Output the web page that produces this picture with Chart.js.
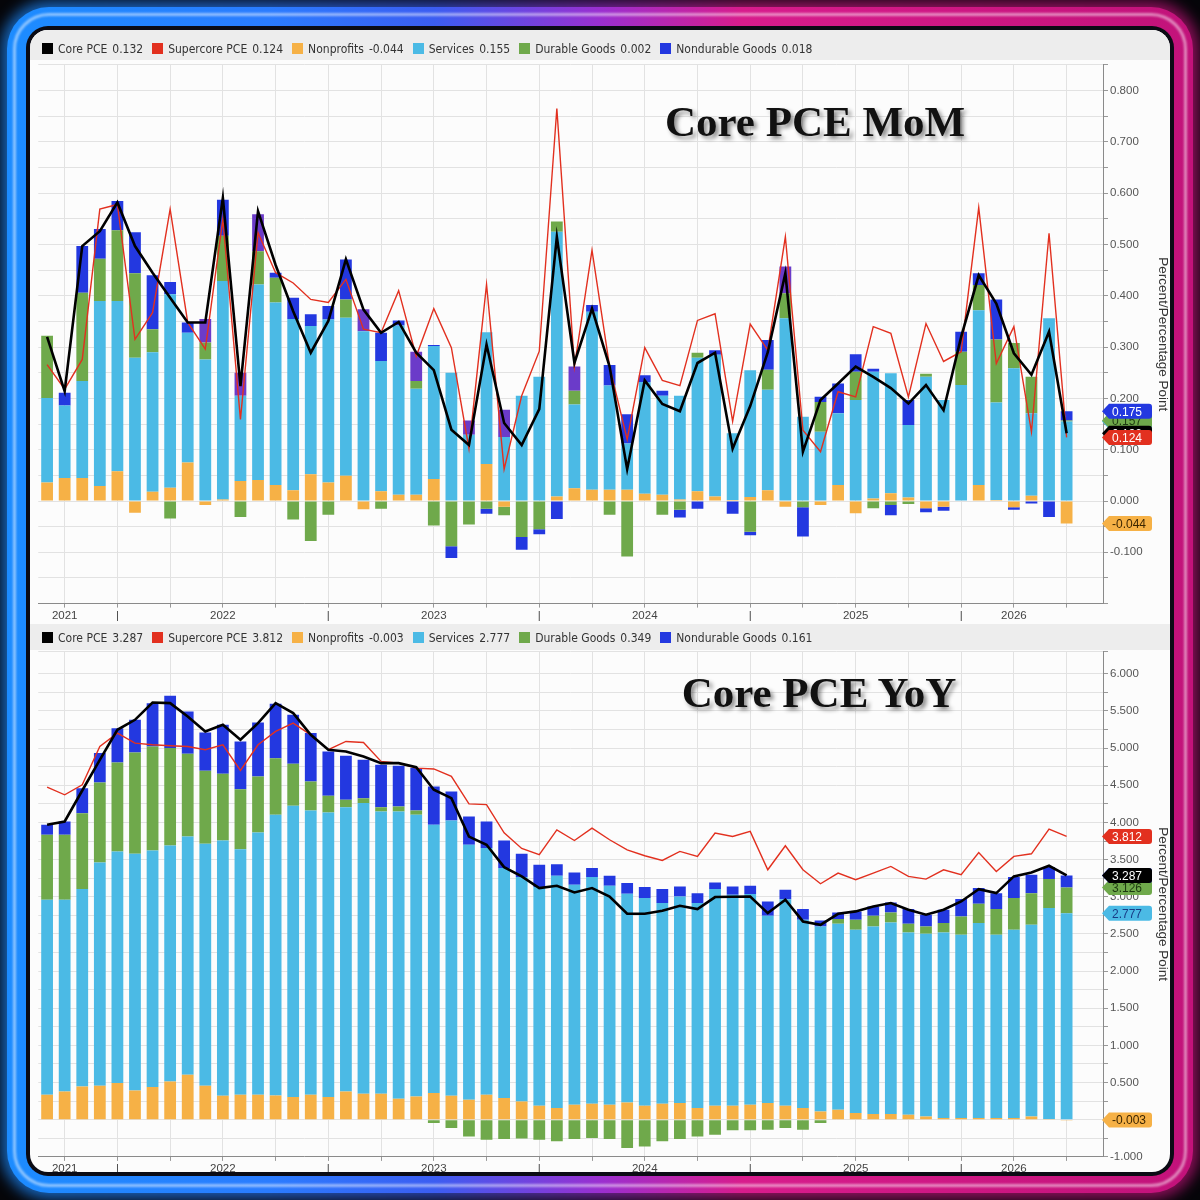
<!DOCTYPE html>
<html>
<head>
<meta charset="utf-8">
<title>Core PCE MoM / YoY</title>
<script src="https://cdn.jsdelivr.net/npm/chart.js@4.4.1/dist/chart.umd.min.js"></script>
<style>
    html, body { margin: 0; padding: 0; background: #050509; }
    #frame { position: relative; width: 1200px; height: 1200px; overflow: hidden; background: #050509; }
    .ring { position: absolute; }
    .glow { left: 1px; top: 1px; right: 1px; bottom: 1px; border-radius: 48px; filter: blur(7px); opacity: 0.7; }
    .tube { left: 7px; top: 7px; right: 7px; bottom: 7px; border-radius: 42px; }
    .grad { background: linear-gradient(90deg, #1c8cff 0%, #2a7cff 22%, #3b5df2 36%, #9a2fd0 50%, #d81c8c 62%, #c2127a 100%); }
    .hi { left: 13px; top: 13px; right: 13px; bottom: 13px; border-radius: 36px; border: 3px solid rgba(255, 255, 255, 0.5); filter: blur(1.2px); }
    .gap { left: 26px; top: 26px; right: 26px; bottom: 24px; border-radius: 22px; background: #0b0b14; }
    #panel { position: absolute; left: 30px; top: 30px; width: 1140px; height: 1142px; border-radius: 18px; background: #fcfcfc; overflow: hidden; }
    .band { position: absolute; left: 0; width: 1140px; background: #ededed; }
    canvas { position: absolute; left: 0; }
    .legend { position: absolute; left: 12px; height: 16px; line-height: 16px; white-space: nowrap;
              font-family: 'Liberation Sans Narrow', 'DejaVu Sans Condensed', sans-serif; font-size: 12px; color: #333; }
    .legend .item { display: inline-block; margin-right: 9px; }
    .legend i { display: inline-block; width: 11px; height: 11px; vertical-align: -1px; margin-right: 5px; }
    .legend b { font-weight: normal; margin-left: 5px; }
    .title { position: absolute; text-align: center; font-family: 'Liberation Serif', 'DejaVu Serif', serif; font-weight: bold;
             font-size: 43px; color: #111; line-height: 44px; height: 44px; white-space: nowrap;
             text-shadow: 3px 3px 4px rgba(0, 0, 0, 0.45), 0 0 3px #fff; }
</style>
</head>
<body>
<div id="frame">
    <div class="ring glow grad"></div>
    <div class="ring tube grad"></div>
    <div class="ring hi"></div>
    <div class="ring gap"></div>
    <div id="panel">
        <div class="band" style="top:0;height:30px"></div>
        <div class="band" style="top:594px;height:26px"></div>
        <canvas id="momChart" width="1140" height="592" style="top:0"></canvas>
        <canvas id="yoyChart" width="1140" height="550" style="top:595px"></canvas>
        <div class="legend" id="momLegend" style="top:11px"></div>
        <div class="legend" id="yoyLegend" style="top:600px"></div>
        <div class="title" style="left:625px;top:70px;width:320px">Core PCE MoM</div>
        <div class="title" style="left:639px;top:641px;width:300px">Core PCE YoY</div>
    </div>
</div>
<script>
// month-over-month contributions (percentage points)
const momNonprofits = [0.036, 0.045, 0.045, 0.029, 0.058, -0.023, 0.018, 0.026, 0.075, -0.008,
    0.003, 0.039, 0.041, 0.031, 0.021, 0.052, 0.036, 0.049, -0.016, 0.019,
    0.012, 0.012, 0.043, 0, 0, 0.072, -0.011, 0, 0, 0.009,
    0.025, 0.022, 0.022, 0.022, 0.014, 0.012, 0.003, 0.019, 0.009, 0.002,
    0.008, 0.021, -0.011, 0, -0.008, 0.031, -0.024, 0.005, 0.015, 0.007,
    -0.014, -0.011, 0, 0.031, 0.002, -0.012, 0.01, 0, -0.044];
const momServices = [0.165, 0.141, 0.189, 0.361, 0.332, 0.279, 0.272, 0.377, 0.253, 0.276,
    0.426, 0.166, 0.381, 0.356, 0.334, 0.289, 0.318, 0.308, 0.331, 0.254,
    0.330, 0.207, 0.259, 0.25, 0.129, 0.257, 0.125, 0.205, 0.242, 0.516,
    0.163, 0.347, 0.203, 0.09, 0.218, 0.193, 0.202, 0.26, 0.276, 0.13,
    0.247, 0.196, 0.356, 0.164, 0.135, 0.14, 0.197, 0.247, 0.234, 0.141,
    0.242, 0.197, 0.226, 0.341, 0.19, 0.259, 0.161, 0.356, 0.155];
const momDurable = [0.121, 0, 0.172, 0.082, 0.138, 0.165, 0.045, -0.034, 0, 0.033,
    0.088, -0.031, 0.065, 0.048, -0.036, -0.078, -0.027, 0.036, 0, -0.015,
    0, 0.015, -0.048, -0.088, -0.046, -0.015, -0.017, -0.07, -0.055, 0.02,
    0.027, 0, -0.027, -0.108, 0, -0.027, -0.017, 0.01, 0, 0,
    -0.06, 0.039, 0.049, -0.012, 0.058, 0, 0.055, -0.014, -0.008, -0.006,
    0.006, 0, 0.065, 0.049, 0.123, 0.049, 0.071, 0, 0.002];
const momNondurable = [0, 0.025, 0.091, 0.058, 0.057, 0.08, 0.105, 0.024, 0.02, 0.046,
    0.07, 0.045, 0.072, 0.01, 0.041, 0.023, 0.026, 0.078, 0.043, 0.055,
    0.01, 0.057, 0.002, -0.023, 0.028, -0.01, 0.053, -0.025, -0.01, -0.035,
    0.047, 0.013, 0.04, 0.057, 0.013, 0.01, -0.015, -0.015, 0.009, -0.025,
    -0.007, 0.058, 0.052, -0.057, 0.01, 0.058, 0.034, 0.006, -0.02, 0.049,
    -0.008, -0.008, 0.039, 0.023, 0.078, -0.005, -0.005, -0.031, 0.018];
const momCore = [0.32, 0.214, 0.497, 0.526, 0.582, 0.497, 0.445, 0.396, 0.348, 0.348,
    0.591, 0.224, 0.565, 0.46, 0.37, 0.289, 0.351, 0.471, 0.373, 0.328,
    0.349, 0.289, 0.255, 0.139, 0.109, 0.305, 0.152, 0.109, 0.179, 0.515,
    0.269, 0.375, 0.262, 0.062, 0.235, 0.189, 0.175, 0.269, 0.289, 0.102,
    0.185, 0.29, 0.444, 0.096, 0.197, 0.229, 0.262, 0.242, 0.22, 0.19,
    0.226, 0.177, 0.32, 0.44, 0.385, 0.288, 0.246, 0.33, 0.132];
const momSupercore = [0.266, 0.218, 0.276, 0.569, 0.578, 0.315, 0.367, 0.569, 0.348, 0.296,
    0.549, 0.159, 0.523, 0.445, 0.425, 0.393, 0.387, 0.432, 0.335, 0.328,
    0.41, 0.282, 0.375, 0.299, 0.102, 0.422, 0.062, 0.205, 0.292, 0.765,
    0.262, 0.489, 0.262, 0.12, 0.299, 0.235, 0.225, 0.352, 0.365, 0.155,
    0.345, 0.294, 0.515, 0.138, 0.096, 0.213, 0.203, 0.34, 0.327, 0.203,
    0.346, 0.272, 0.291, 0.572, 0.268, 0.34, 0.135, 0.522, 0.124];
// bars whose nondurable block shows purple in the source
const momPurpleBars = [9, 11, 12, 18, 21, 24, 26, 30, 42];

// year-over-year contributions (percentage points)
const yoyNonprofits = [0.336, 0.381, 0.448, 0.457, 0.493, 0.395, 0.439, 0.516, 0.605, 0.457,
    0.323, 0.336, 0.336, 0.327, 0.305, 0.336, 0.305, 0.381, 0.35, 0.35,
    0.283, 0.314, 0.359, 0.323, 0.269, 0.336, 0.291, 0.247, 0.188, 0.157,
    0.202, 0.215, 0.202, 0.233, 0.188, 0.215, 0.224, 0.157, 0.188, 0.188,
    0.202, 0.224, 0.188, 0.157, 0.112, 0.135, 0.09, 0.076, 0.076, 0.067,
    0.045, 0.022, 0.022, 0.022, 0.022, 0.022, 0.045, 0.009, -0.003];
const yoyServices = [2.623, 2.578, 2.655, 3.005, 3.117, 3.183, 3.184, 3.175, 3.207, 3.256,
    3.435, 3.305, 3.529, 3.776, 3.919, 3.825, 3.83, 3.825, 3.91, 3.798,
    3.865, 3.789, 3.61, 3.704, 3.431, 3.319, 3.095, 3.018, 2.942, 3.126,
    2.959, 3.05, 2.946, 2.807, 2.794, 2.7, 2.78, 2.758, 2.915, 2.839,
    2.834, 2.52, 2.78, 2.534, 2.489, 2.502, 2.466, 2.525, 2.579, 2.453,
    2.457, 2.498, 2.467, 2.624, 2.467, 2.534, 2.578, 2.839, 2.777];
const yoyDurable = [0.874, 0.874, 1.022, 1.076, 1.197, 1.364, 1.399, 1.309, 1.112, 0.982,
    0.897, 0.807, 0.754, 0.762, 0.565, 0.391, 0.224, 0.099, 0.067, 0.058,
    0.067, 0.058, -0.045, -0.112, -0.224, -0.269, -0.26, -0.251, -0.269, -0.291,
    -0.26, -0.247, -0.26, -0.381, -0.359, -0.291, -0.26, -0.224, -0.202, -0.143,
    -0.143, -0.135, -0.112, -0.135, -0.045, 0.063, 0.135, 0.143, 0.134, 0.117,
    0.099, 0.126, 0.246, 0.26, 0.345, 0.426, 0.426, 0.39, 0.349];
const yoyNondurable = [0.135, 0.179, 0.336, 0.395, 0.462, 0.439, 0.583, 0.704, 0.569, 0.516,
    0.659, 0.642, 0.726, 0.731, 0.659, 0.65, 0.596, 0.592, 0.516, 0.57,
    0.547, 0.57, 0.516, 0.39, 0.381, 0.358, 0.372, 0.313, 0.3, 0.156,
    0.166, 0.121, 0.135, 0.144, 0.148, 0.188, 0.135, 0.134, 0.09, 0.112,
    0.112, 0.193, 0.126, 0.143, 0.081, 0.089, 0.112, 0.126, 0.135, 0.197,
    0.157, 0.179, 0.234, 0.211, 0.215, 0.283, 0.247, 0.161, 0.161];
const yoyCore = [3.969, 4.013, 4.43, 4.843, 5.247, 5.381, 5.614, 5.605, 5.426, 5.224,
    5.314, 5.112, 5.336, 5.605, 5.471, 5.179, 4.978, 4.955, 4.888, 4.798,
    4.798, 4.744, 4.44, 4.327, 3.81, 3.7, 3.399, 3.274, 3.117, 3.148,
    3.058, 3.117, 3.004, 2.771, 2.771, 2.812, 2.879, 2.834, 2.996, 3.0,
    3.004, 2.78, 2.96, 2.668, 2.623, 2.771, 2.803, 2.87, 2.915, 2.825,
    2.758, 2.825, 2.937, 3.103, 3.049, 3.274, 3.327, 3.417, 3.287];
const yoySupercore = [4.475, 4.372, 4.507, 5.022, 5.202, 5.067, 5.045, 5.031, 5.022, 4.978,
    5.045, 4.7, 5.045, 5.224, 5.336, 5.179, 4.978, 5.09, 5.076, 4.821,
    4.798, 4.731, 4.72, 4.62, 4.25, 4.24, 3.86, 3.65, 3.565, 3.9,
    3.757, 3.924, 3.767, 3.632, 3.552, 3.489, 3.61, 3.543, 3.857, 3.812,
    3.879, 3.363, 3.686, 3.363, 3.175, 3.318, 3.229, 3.318, 3.408, 3.274,
    3.238, 3.363, 3.296, 3.596, 3.341, 3.543, 3.578, 3.91, 3.812];

// x axis: one bar per month, a tick every third bar
const yearTickBars = [1, 10, 22, 34, 46, 55];
const yearTickNames = ['2021', '2022', '2023', '2024', '2025', '2026'];
const yearBreakBars = [4, 16, 28, 40, 52];

const seriesNames = ['Core PCE', 'Supercore PCE', 'Nonprofits', 'Services', 'Durable Goods', 'Nondurable Goods'];
const seriesColors = ['#000000', '#e2301f', '#f6b146', '#4bbae5', '#6fa94b', '#2338e0'];
const purpleColor = '#6b3bc9';
const FONT = "'Liberation Sans', 'DejaVu Sans', sans-serif";

function xTickText(v) {
    if (!Number.isInteger(v) || v % 3 !== 1) return null;
    const y = yearTickBars.indexOf(v);
    if (y >= 0) return yearTickNames[y];
    if (yearBreakBars.includes(v)) return '|';
    return '';
}

function buildLegend(id, values) {
    const el = document.getElementById(id);
    seriesNames.forEach((name, i) => {
        const item = document.createElement('span');
        item.className = 'item';
        item.innerHTML = `<i style="background:${seriesColors[i]}"></i>${name}<b>${values[i].toFixed(3)}</b>`;
        el.appendChild(item);
    });
}

// flag labels for the last values, drawn over the right axis
const flagPlugin = {
    id: 'flags',
    afterDatasetsDraw(chart, args, opts) {
        const ctx = chart.ctx;
        const yScale = chart.scales.y;
        const x0 = chart.chartArea.right - 1;
        opts.items.forEach(f => {
            const py = yScale.getPixelForValue(f.value);
            const h = 15, w = 50, r = 3;
            ctx.save();
            ctx.beginPath();
            ctx.moveTo(x0, py);
            ctx.lineTo(x0 + 7, py - h / 2);
            ctx.lineTo(x0 + w - r, py - h / 2);
            ctx.quadraticCurveTo(x0 + w, py - h / 2, x0 + w, py - h / 2 + r);
            ctx.lineTo(x0 + w, py + h / 2 - r);
            ctx.quadraticCurveTo(x0 + w, py + h / 2, x0 + w - r, py + h / 2);
            ctx.lineTo(x0 + 7, py + h / 2);
            ctx.closePath();
            ctx.fillStyle = f.bg;
            ctx.fill();
            ctx.fillStyle = f.fg;
            ctx.font = '12px ' + FONT;
            ctx.textBaseline = 'middle';
            ctx.fillText(f.value.toFixed(3), x0 + 10, py + 1);
            ctx.restore();
        });
    }
};

function stackFlags(parts, core, supercore) {
    const last = core.length - 1;
    const styles = [
        { bg: seriesColors[2], fg: '#3b2500' },
        { bg: seriesColors[3], fg: '#183c86' },
        { bg: seriesColors[4], fg: '#1d3a10' },
        { bg: seriesColors[5], fg: '#ffffff' }
    ];
    let pos = 0, neg = 0;
    const items = parts.map((arr, i) => {
        const v = arr[last];
        let at;
        if (v >= 0) { pos += v; at = pos; } else { neg += v; at = neg; }
        return { value: Math.round(at * 1000) / 1000, bg: styles[i].bg, fg: styles[i].fg };
    });
    items.push({ value: core[last], bg: '#000000', fg: '#ffffff' });
    items.push({ value: supercore[last], bg: seriesColors[1], fg: '#ffffff' });
    return items;
}

function createChart(canvasId, d) {
    const ctx = document.getElementById(canvasId).getContext('2d');
    const bars = d.core.map((_, i) => i);
    const barOpts = { type: 'bar', stack: 'parts', order: 2, borderWidth: 0, barPercentage: 0.67, categoryPercentage: 1 };

    const data = {
        labels: bars,
        datasets: [
            { type: 'line', label: seriesNames[0], data: d.core, borderColor: seriesColors[0], borderWidth: 2.6,
              pointRadius: 0, tension: 0, stack: 'core', order: 0 },
            { type: 'line', label: seriesNames[1], data: d.supercore, borderColor: seriesColors[1], borderWidth: 1.4,
              pointRadius: 0, tension: 0, stack: 'super', order: 1 },
            { ...barOpts, label: seriesNames[2], data: d.nonprofits, backgroundColor: seriesColors[2] },
            { ...barOpts, label: seriesNames[3], data: d.services, backgroundColor: seriesColors[3] },
            { ...barOpts, label: seriesNames[4], data: d.durable, backgroundColor: seriesColors[4] },
            { ...barOpts, label: seriesNames[5], data: d.nondurable,
              backgroundColor: bars.map(i => d.purple.includes(i) ? purpleColor : seriesColors[5]) }
        ]
    };

    const config = {
        type: 'bar',
        data: data,
        plugins: [flagPlugin],
        options: {
            responsive: false,
            animation: false,
            events: [],
            layout: { padding: { top: d.padTop, left: 8.3, right: 0, bottom: 0 } },
            plugins: {
                legend: { display: false },
                tooltip: { enabled: false },
                flags: { items: stackFlags([d.nonprofits, d.services, d.durable, d.nondurable], d.core, d.supercore) }
            },
            scales: {
                x: {
                    type: 'linear',
                    offset: false,
                    min: -0.5,
                    max: 60.07,
                    afterFit: s => { s.height = d.xHeight; },
                    ticks: { stepSize: 1, autoSkip: false, maxRotation: 0, padding: 1, color: '#444',
                             font: { family: FONT, size: 11.5 }, callback: v => xTickText(v) },
                    grid: { offset: false, color: '#e2e2e2', tickColor: '#999', tickLength: 4 },
                    border: { color: '#8a8a8a' }
                },
                y: {
                    position: 'right',
                    stacked: true,
                    min: d.min,
                    max: d.max,
                    afterFit: s => { s.width = 67; },
                    ticks: { stepSize: d.step, autoSkip: false, padding: 2, color: '#555',
                             font: { family: FONT, size: 11.5 }, callback: v => d.yLabel(Math.round(v * 1000) / 1000) },
                    grid: { color: '#e2e2e2', tickColor: '#999', tickLength: 5 },
                    border: { color: '#8a8a8a' },
                    title: { display: true, text: 'Percent/Percentage Point', color: '#333',
                             font: { family: FONT, size: 13.5, lineHeight: 1.05 }, padding: 0 }
                }
            }
        }
    };

    return new Chart(ctx, config);
}

createChart('momChart', {
    core: momCore, supercore: momSupercore, nonprofits: momNonprofits, services: momServices,
    durable: momDurable, nondurable: momNondurable, purple: momPurpleBars,
    min: -0.2, max: 0.85, step: 0.05, padTop: 34.95, xHeight: 18.4,
    yLabel: v => (Math.abs(v * 10 - Math.round(v * 10)) < 1e-6 && v > -0.15) ? v.toFixed(3) : ''
});

createChart('yoyChart', {
    core: yoyCore, supercore: yoySupercore, nonprofits: yoyNonprofits, services: yoyServices,
    durable: yoyDurable, nondurable: yoyNondurable, purple: [],
    min: -0.5, max: 6.3, step: 0.25, padTop: 26.5, xHeight: 18.1,
    yLabel: v => {
        if (Math.abs(v * 2 - Math.round(v * 2)) > 1e-6 || v > 6.01) return '';
        return v === -0.5 ? '-1.000' : v.toFixed(3);
    }
});

buildLegend('momLegend', [momCore, momSupercore, momNonprofits, momServices, momDurable, momNondurable].map(a => a[a.length - 1]));
buildLegend('yoyLegend', [yoyCore, yoySupercore, yoyNonprofits, yoyServices, yoyDurable, yoyNondurable].map(a => a[a.length - 1]));
</script>
</body>
</html>
